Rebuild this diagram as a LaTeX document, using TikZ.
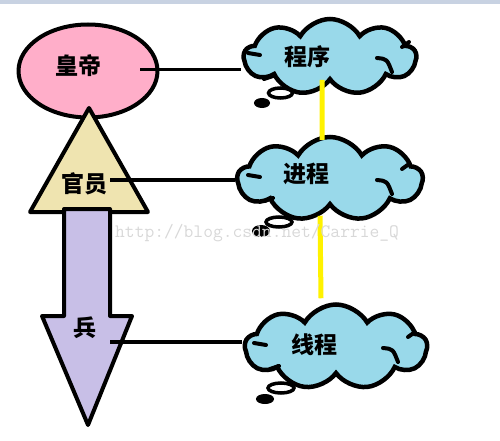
\documentclass[tikz,border=0pt]{standalone}
\usepackage{fontspec}
\newfontfamily\cjk{Noto Sans CJK SC}
\usetikzlibrary{shapes.symbols,shapes.geometric}
\definecolor{topbar}{HTML}{C8D2E2}
\definecolor{rose}{HTML}{FFAEC9}
\definecolor{tan}{HTML}{EFE4B0}
\definecolor{lav}{HTML}{C8BFE7}
\definecolor{sky}{HTML}{99D9EA}
\definecolor{yel}{HTML}{FFF200}
\definecolor{wm}{HTML}{D8D8D8}
\tikzset{
  outl/.style={draw=black, line width=4pt, line join=round},
  emperor/.style={outl, ellipse, fill=rose, inner sep=0pt},
  cloudbox/.style={draw=black, line width=4.5pt, cloud, cloud puffs=9, cloud puff arc=120, aspect=2.3, fill=sky, inner sep=0pt},
  label/.style={font=\cjk\bfseries\fontsize{23}{23}\selectfont, inner sep=0pt},
  conn/.style={draw=black, line width=3.5pt},
  yline/.style={draw=yel, line width=5pt},
  deco/.style={draw=black, line width=4pt, line cap=round},
  bubble/.style={draw=black, line width=3.5pt, fill=white},
  blob/.style={fill=black, draw=black, line width=2pt},
  watermark/.style={text=wm, font=\ttfamily\fontsize{19}{19}\selectfont, inner sep=0pt}
}
\tikzset{cdeco/.pic={
  \draw[deco] (47,1) .. controls (57,2) .. (62,15);
  \draw[deco] (72,-10) -- (79,-15);
  \draw[deco] (-82,-4) -- (-70,-2);
  \draw[deco] (-66,22) -- (-57,19);
}}
\begin{document}
\begin{tikzpicture}[x=1pt,y=-1pt]
\useasboundingbox (0,0) rectangle (500,441);
\fill[topbar] (0,0) rectangle (500,4);

% left column shapes
\node[emperor, minimum width=139pt, minimum height=93pt] (emp) at (88,71) {};
\filldraw[outl, fill=tan] (89,108) -- (148,212) -- (30,212) -- cycle;
\filldraw[outl, fill=lav] (64,209) -- (110,209) -- (110,316) -- (132,316) -- (88,425) -- (42,316) -- (64,316) -- cycle;

\node[label] (huang) at (78.5,66) {皇帝};
\node[label] (guan) at (84.5,184) {官员};
\node[label] (bing) at (85,328) {兵};

% clouds
\node[cloudbox, minimum width=172pt, minimum height=76pt] (c1) at (330,57) {};
\node[cloudbox, minimum width=185pt, minimum height=84pt] (c2) at (330,179) {};
\node[cloudbox, minimum width=182pt, minimum height=85pt] (c3) at (336,347) {};
\pic at (c1.center) {cdeco};
\pic at (c2.center) {cdeco};
\pic at (c3.center) {cdeco};

% thought bubbles
\filldraw[bubble] (280.5,93) ellipse[x radius=12, y radius=5];
\filldraw[blob] (262,103) ellipse[x radius=7, y radius=4];
\filldraw[bubble] (279,222) ellipse[x radius=13, y radius=5];
\filldraw[blob] (261,231) ellipse[x radius=8, y radius=5];
\filldraw[bubble] (281,388) ellipse[x radius=13, y radius=5];
\filldraw[blob] (265,399) ellipse[x radius=8, y radius=4];

\node[label] (cx) at (307.5,57) {程序};
\node[label] (jc) at (306,173.5) {进程};
\node[label] (xc) at (314,345) {线程};

% connectors
\coordinate (s1) at (140,69.5);
\coordinate (s2) at (110,180);
\coordinate (s3) at (110,342);
\draw[conn] (s1) -- (s1 -| c1.west);
\draw[conn] (s2) -- (s2 -| c2.west);
\draw[conn] (s3) -- (s3 -| c3.west);

\draw[yline] ([xshift=-8pt,yshift=3pt]c1.south) -- ([xshift=-8pt,yshift=-5pt]c2.north);
\draw[yline] ([xshift=-10pt,yshift=-8pt]c2.south) -- ([xshift=-15pt,yshift=4pt]c3.north);

\node[watermark, anchor=base west] (wmk) at (115,237) {http://blog.csdn.net/Carrie\_Q};
\end{tikzpicture}
\end{document}
